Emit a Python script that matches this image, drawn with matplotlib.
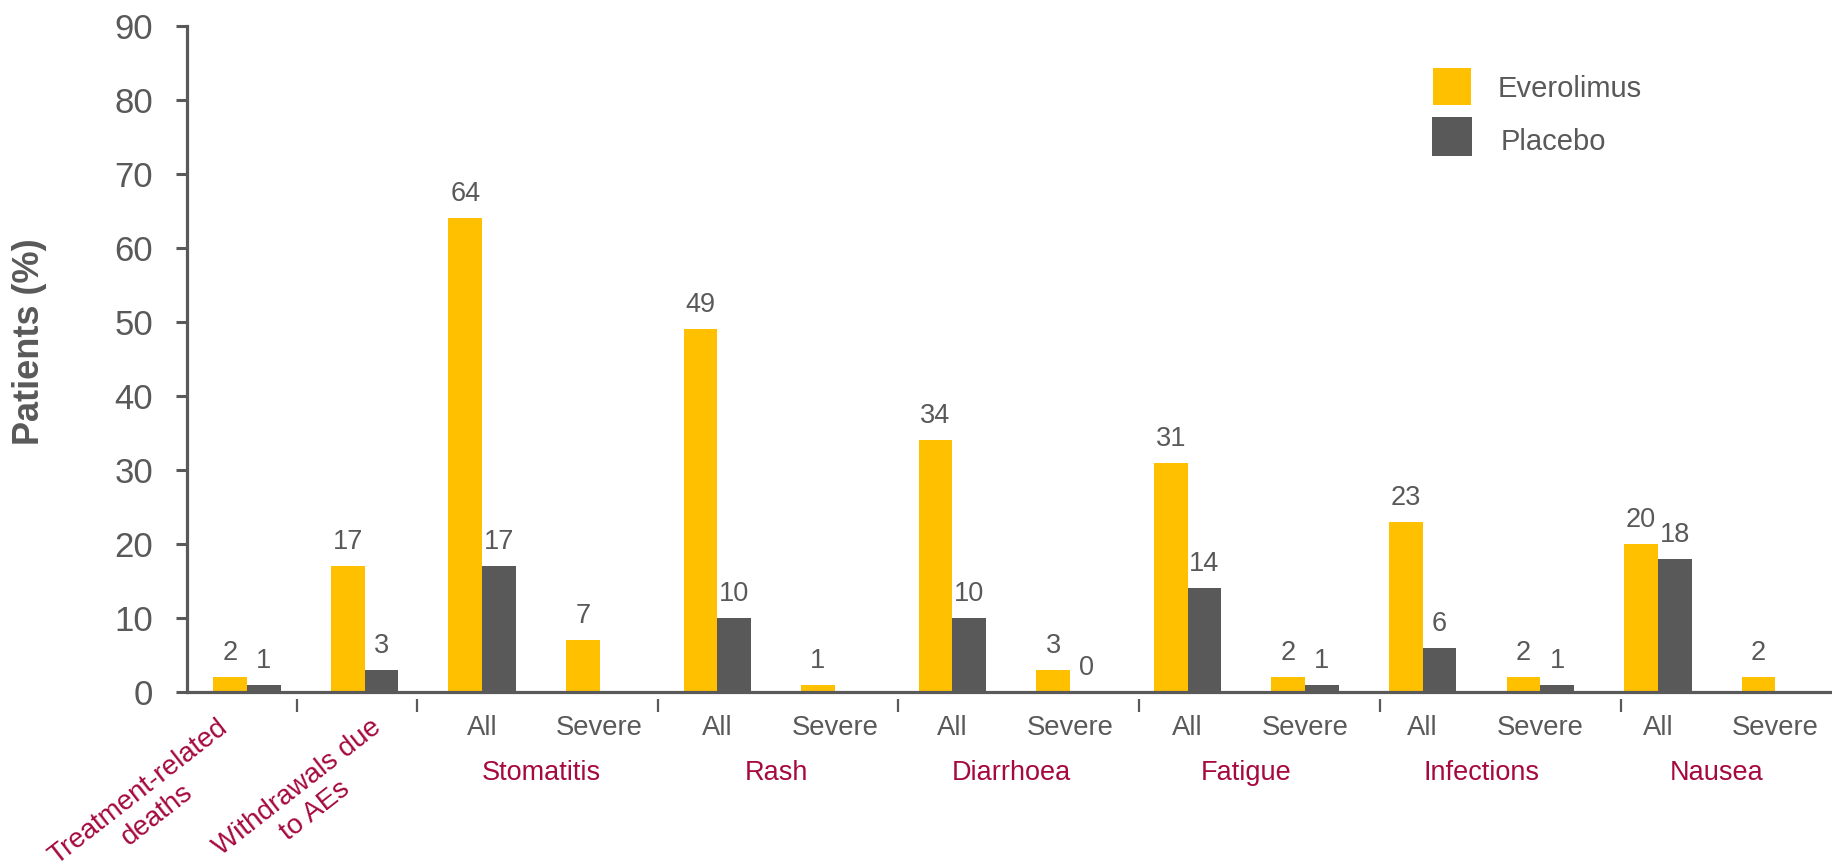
import numpy as np
import matplotlib
matplotlib.use("Agg")
import matplotlib.pyplot as plt
from matplotlib.patches import Rectangle
from matplotlib.transforms import blended_transform_factory

# ---- data -------------------------------------------------------------
slot_labels = ["", "", "All", "Severe", "All", "Severe", "All", "Severe",
               "All", "Severe", "All", "Severe", "All", "Severe"]
rotated_labels = ["Treatment-related\ndeaths", "Withdrawals due\nto AEs"]
group_labels = ["Stomatitis", "Rash", "Diarrhoea", "Fatigue", "Infections", "Nausea"]
everolimus = [2, 17, 64, 7, 49, 1, 34, 3, 31, 2, 23, 2, 20, 2]
placebo = [1, 3, 17, np.nan, 10, np.nan, 10, 0, 14, 1, 6, 1, 18, np.nan]
series_names = ["Everolimus", "Placebo"]
y_ticks = list(range(0, 91, 10))

# ---- style ------------------------------------------------------------
YELLOW = "#FFC000"
GREY = "#595959"
CRIMSON = "#A5093F"
plt.rcParams["font.family"] = ["Liberation Sans", "DejaVu Sans"]

W, H = 1833, 863
fig = plt.figure(figsize=(W / 100, H / 100), dpi=100)
ax = fig.add_axes([187 / W, (H - 692) / H, 1646 / W, 666 / H])

x = np.arange(len(everolimus))
bw = 0.287
ax.bar(x - bw / 2, everolimus, width=bw, color=YELLOW, zorder=2)
ax.bar(x + bw / 2, np.nan_to_num(placebo), width=bw, color=GREY, zorder=2)

# value labels above each bar
for xi, v in zip(x, everolimus):
    ax.annotate(f"{v:g}", (xi - bw / 2, v), xytext=(0, 12.2), textcoords="offset points",
                ha="center", va="baseline", fontsize=19.5, color=GREY)
for xi, v in zip(x, placebo):
    if np.isnan(v):
        continue
    ax.annotate(f"{v:g}", (xi + bw / 2, v), xytext=(0, 12.2), textcoords="offset points",
                ha="center", va="baseline", fontsize=19.5, color=GREY)

ax.set_xlim(-0.51, 13.49)
ax.set_ylim(0, 90)
ax.set_yticks(y_ticks)
ax.tick_params(axis="y", direction="out", length=8, width=2.2, color=GREY,
               labelsize=25, labelcolor=GREY, pad=16.5)
ax.set_xticks([])
for side in ("top", "right"):
    ax.spines[side].set_visible(False)
for side in ("left", "bottom"):
    ax.spines[side].set_color(GREY)
    ax.spines[side].set_linewidth(2.3)
ax.spines["bottom"].set_zorder(3)

bt = blended_transform_factory(ax.transData, ax.transAxes)

# All / Severe labels
for xi, lab in zip(x, slot_labels):
    if lab:
        ax.text(xi, -0.0646, lab, transform=bt, ha="center", va="baseline",
                fontsize=19.8, color=GREY)

# group names under each pair of slots
for gi, g in enumerate(group_labels):
    xc = 2 + 2 * gi + 0.5
    ax.text(xc, -0.1321, g, transform=bt, ha="center", va="baseline",
            fontsize=19.5, color=CRIMSON)

# slanted labels for the first two single-slot categories
rot_offsets = [-0.255, 0.045]
for xi, lab, dx in zip(x[:2], rotated_labels, rot_offsets):
    ax.text(xi + dx, -0.033, lab, transform=bt, ha="right", va="top",
            rotation=38, rotation_mode="anchor", multialignment="center",
            fontsize=20, color=CRIMSON)

# separator marks between categories
boundaries = np.array([0.5, 1.5, 3.5, 5.5, 7.5, 9.5, 11.5])
sep_x = 1.4455 + (boundaries - 1.5) * 1.0238
for sx in sep_x:
    ax.plot([sx, sx], [-0.0105, -0.030], transform=bt, color=GREY, lw=1.6,
            clip_on=False, solid_capstyle="butt")

fig.text(30 / W, 1 - 342 / H, "Patients (%)", rotation=90, ha="center", va="center",
         fontsize=26, fontweight="bold", color=GREY)

# legend: coloured squares with series names
def px(xp, yp):
    return xp / W, 1 - yp / H

legend_rows = [(YELLOW, (1433, 68, 1471, 105), (1498, 97)),
               (GREY, (1432, 117, 1472, 156), (1501, 150))]
for name, (col, (x0, y0, x1, y1), (tx, ty)) in zip(series_names, legend_rows):
    fx, fy = px(x0, y1)
    fig.patches.append(Rectangle((fx, fy), (x1 - x0) / W, (y1 - y0) / H,
                                 transform=fig.transFigure, facecolor=col,
                                 edgecolor="none"))
    fig.text(*px(tx, ty), name, ha="left", va="baseline", fontsize=21, color=GREY)

fig.savefig("out.png", dpi=100)
